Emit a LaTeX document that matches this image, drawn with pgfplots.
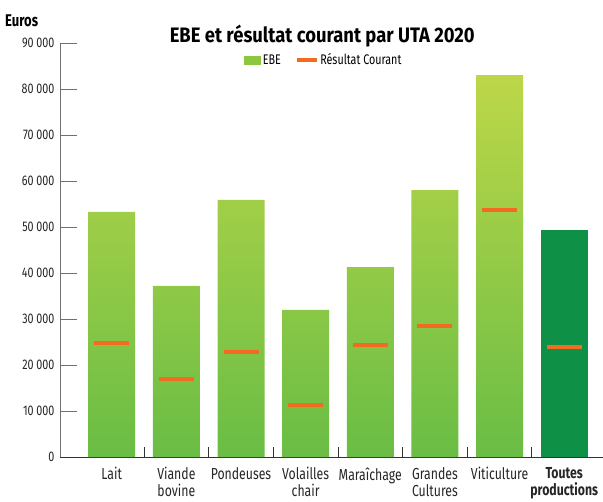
\documentclass[border=0pt]{standalone}
\usepackage{fontspec}
\setmainfont{Fira Sans}[FakeStretch=0.77]
\newfontfamily\titlefont{Fira Sans}[FakeStretch=0.88]
\usepackage{pgfplots}
\pgfplotsset{compat=1.18}
\definecolor{ebetop}{HTML}{BDD748}
\definecolor{ebebot}{HTML}{69BD45}
\definecolor{ebeleg}{HTML}{8DC63F}
\definecolor{ebetot}{HTML}{0E9146}
\definecolor{rcorange}{HTML}{F26B21}
\definecolor{axgray}{HTML}{707070}
\begin{document}
\begin{tikzpicture}
\path[use as bounding box] (-60bp,-45bp) rectangle (543bp,457bp);
\begin{axis}[
  scale only axis, width=543bp, height=414bp,
  xmin=-0.8, xmax=7.6, ymin=0, ymax=90000,
  axis x line=bottom, axis y line=left,
  axis line style={-, draw=axgray, line width=0.9pt},
  x axis line style={draw=black!80},
  ytick={0,10000,...,90000},
  scaled y ticks=false,
  yticklabel style={font=\fontsize{14}{16}\selectfont, color=black!85, xshift=-2bp,
    /pgf/number format/1000 sep={\space}, /pgf/number format/assume math mode=true},
  tick style={draw=axgray, line width=0.9pt},
  major tick length=17bp, tickpos=left, tick align=inside,
  xtick={0,...,7},
  xticklabels={Lait, Viande\\bovine, Pondeuses, Volailles\\chair, Maraîchage, Grandes\\Cultures, Viticulture, \textbf{Toutes}\\\textbf{productions}},
  xticklabel style={font=\fontsize{16}{17}\selectfont, align=center, anchor=north, yshift=-7bp, color=black!85},
  x tick style={draw=none},
  minor xtick={0.5,1.5,...,6.5},
  minor x tick style={draw=black!80, line width=0.9pt},
  minor tick length=10bp,
  clip=false,
  legend style={draw=none, fill=none, at={(0.486,0.959)}, anchor=center, legend columns=2,
    font=\fontsize{14}{16}\selectfont, inner sep=0pt,
    /tikz/every even column/.append style={column sep=12bp}},
]
\addlegendimage{legend image code/.code={\fill[ebeleg] (0bp,-4bp) rectangle (16bp,4bp);}}
\addlegendentry{EBE}
\addlegendimage{legend image code/.code={\draw[rcorange, line width=3.5bp] (0bp,0bp) -- (20bp,0bp);}}
\addlegendentry{Résultat Courant}
\addplot[ybar, bar width=47bp, bar shift=0pt, draw=none, top color=ebetop, bottom color=ebebot, forget plot]
  coordinates {(0,53300) (1,37200) (2,55900) (3,32000) (4,41300) (5,58000) (6,83000)};
\addplot[ybar, bar width=47bp, bar shift=0pt, draw=none, fill=ebetot, forget plot]
  coordinates {(7,49300)};
\addplot[only marks, mark=-, mark size=17.5bp, mark options={line width=4bp, draw=rcorange}, forget plot]
  coordinates {(0,24800) (1,17000) (2,22800) (3,11300) (4,24300) (5,28500) (6,53700) (7,23900)};
\node[font=\bfseries\fontsize{17}{19}\selectfont, anchor=base west, inner sep=0pt] at (axis cs:-0.8,90000) [xshift=-55bp, yshift=17bp] {Euros};
\node[font=\titlefont\bfseries\fontsize{21}{24}\selectfont, anchor=base, inner sep=0pt] at (rel axis cs:0.483,1) [yshift=1bp] {EBE et résultat courant par UTA 2020};
\end{axis}
\end{tikzpicture}
\end{document}
